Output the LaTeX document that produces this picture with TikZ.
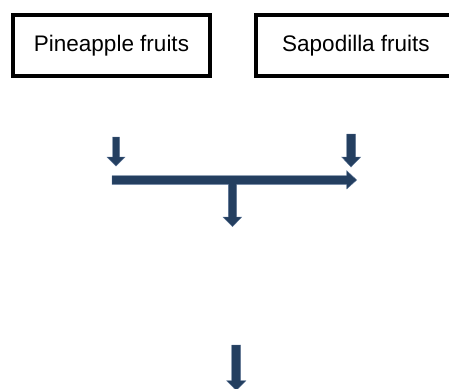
\documentclass[tikz,border=0pt]{standalone}
\usepackage{fontspec}
\setmainfont{Liberation Sans}
\definecolor{navy}{RGB}{36,63,96}
\definecolor{navyedge}{RGB}{90,115,150}
\begin{document}
\begin{tikzpicture}[x=1pt,y=-1pt,
  fruitbox/.style={draw=black,line width=4pt,fill=white,inner sep=0pt,font=\fontsize{22.5}{27}\selectfont},
  blockarrow/.style={fill=navy,draw=navyedge,line width=0.4pt,line join=miter}]
\useasboundingbox (0,0) rectangle (449,388);
\clip (0,0) rectangle (449,388);
\node[fruitbox,minimum width=197pt,minimum height=61pt] (pine) at (111.5,45.5) {Pineapple fruits};
\node[fruitbox,minimum width=200pt,minimum height=61pt] (sapo) at (356,45.5) {Sapodilla fruits};
% left small down arrow
\coordinate (la) at (116,137);
\draw[blockarrow] (112.5,137) -- (119.5,137) -- (119.5,157) -- (125,157) -- (116,166) -- (107,157) -- (112.5,157) -- cycle;
% right small down arrow
\coordinate (ra) at (351,134);
\draw[blockarrow] (346.7,134) -- (355.5,134) -- (355.5,157) -- (360.7,157) -- (351,167) -- (341.7,157) -- (346.7,157) -- cycle;
% horizontal arrow with middle down branch
\draw[blockarrow] (112,175.7) -- (346.7,175.7) -- (346.7,170.7) -- (356.7,180) -- (346.7,189) -- (346.7,184.3)
  -- (236.7,184.3) -- (236.7,217) -- (241.7,217) -- (232.5,226.7) -- (223,217) -- (228.3,217) -- (228.3,184.3)
  -- (112,184.3) -- cycle;
% bottom down arrow
\draw[blockarrow] (231.7,345) -- (240.7,345) -- (240.7,380.7) -- (246,380.7) -- (236.2,390.5) -- (226.7,380.7) -- (231.7,380.7) -- cycle;
\end{tikzpicture}
\end{document}
